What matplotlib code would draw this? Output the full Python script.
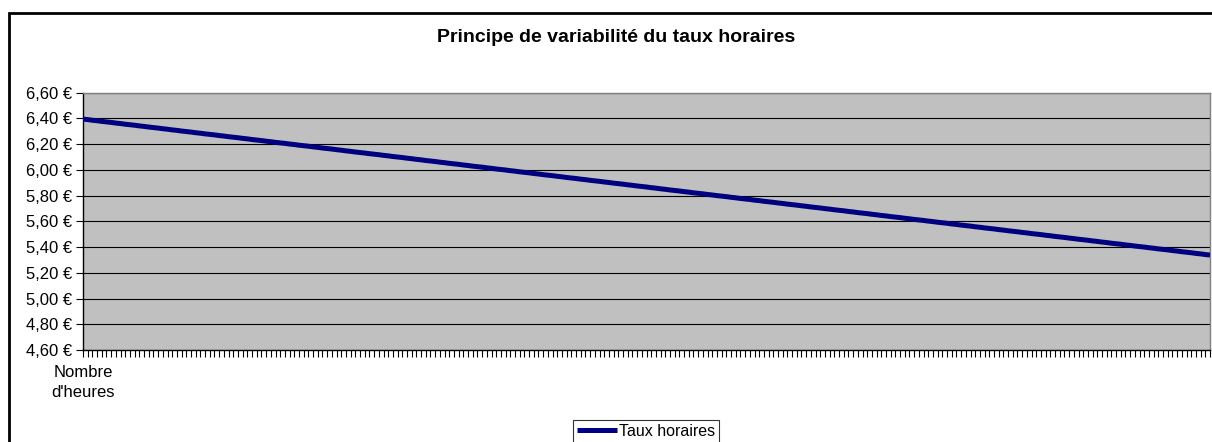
import matplotlib
matplotlib.use("Agg")
import matplotlib.pyplot as plt
from matplotlib.patches import Rectangle
from matplotlib.ticker import FuncFormatter, MultipleLocator

plt.rcParams['font.family'] = ['Liberation Sans', 'DejaVu Sans']

title = "Principe de variabilité du taux horaires"
series_name = "Taux horaires"
first_label = "Nombre\nd'heures"

taux = [
    6.395, 6.391, 6.386, 6.382, 6.377, 6.373, 6.369, 6.364, 6.360, 6.355,
    6.351, 6.347, 6.342, 6.338, 6.333, 6.329, 6.325, 6.320, 6.316, 6.311,
    6.307, 6.302, 6.298, 6.294, 6.289, 6.285, 6.280, 6.276, 6.272, 6.267,
    6.263, 6.258, 6.254, 6.250, 6.245, 6.241, 6.236, 6.232, 6.228, 6.223,
    6.219, 6.214, 6.210, 6.206, 6.201, 6.197, 6.192, 6.188, 6.184, 6.179,
    6.175, 6.170, 6.166, 6.162, 6.157, 6.153, 6.148, 6.144, 6.139, 6.135,
    6.131, 6.126, 6.122, 6.118, 6.113, 6.109, 6.104, 6.100, 6.096, 6.091,
    6.087, 6.082, 6.078, 6.073, 6.069, 6.065, 6.060, 6.056, 6.051, 6.047,
    6.043, 6.038, 6.034, 6.029, 6.025, 6.021, 6.016, 6.012, 6.007, 6.003,
    5.999, 5.994, 5.990, 5.985, 5.981, 5.977, 5.972, 5.968, 5.963, 5.959,
    5.955, 5.950, 5.946, 5.941, 5.937, 5.933, 5.928, 5.924, 5.919, 5.915,
    5.911, 5.906, 5.902, 5.897, 5.893, 5.889, 5.884, 5.880, 5.875, 5.871,
    5.867, 5.862, 5.858, 5.853, 5.849, 5.844, 5.840, 5.836, 5.831, 5.827,
    5.822, 5.818, 5.814, 5.809, 5.805, 5.800, 5.796, 5.792, 5.787, 5.783,
    5.778, 5.774, 5.770, 5.765, 5.761, 5.756, 5.752, 5.748, 5.743, 5.739,
    5.734, 5.730, 5.726, 5.721, 5.717, 5.712, 5.708, 5.704, 5.699, 5.695,
    5.690, 5.686, 5.682, 5.677, 5.673, 5.668, 5.664, 5.660, 5.655, 5.651,
    5.646, 5.642, 5.637, 5.633, 5.629, 5.624, 5.620, 5.615, 5.611, 5.607,
    5.602, 5.598, 5.593, 5.589, 5.585, 5.580, 5.576, 5.571, 5.567, 5.563,
    5.558, 5.554, 5.549, 5.545, 5.541, 5.536, 5.532, 5.527, 5.523, 5.519,
    5.514, 5.510, 5.505, 5.501, 5.497, 5.492, 5.488, 5.483, 5.479, 5.475,
    5.470, 5.466, 5.461, 5.457, 5.453, 5.448, 5.444, 5.439, 5.435, 5.430,
    5.426, 5.422, 5.417, 5.413, 5.408, 5.404, 5.400, 5.395, 5.391, 5.386,
    5.382, 5.378, 5.373, 5.369, 5.364, 5.360, 5.356, 5.351, 5.347, 5.342,
    5.338,
]
categories = [first_label] + [""] * (len(taux) - 1)

y_min, y_max, y_step = 4.60, 6.60, 0.20

W, H = 1212, 442
fig = plt.figure(figsize=(W / 100, H / 100), dpi=100)
fig.patch.set_facecolor("white")

# outer chart border
fig.patches.append(Rectangle((9 / W, -0.1), 1.2, 1 - 13 / H + 0.1,
                             transform=fig.transFigure, fill=False,
                             edgecolor="black", linewidth=2))

ax = fig.add_axes([83 / W, 1 - 350 / H, (1210 - 83) / W, (350 - 92.7) / H])
ax.set_facecolor("#C0C0C0")

x = list(range(len(taux)))
line, = ax.plot(x, taux, color="#000080", linewidth=3.6,
                solid_capstyle="butt", label=series_name, zorder=3)

ax.set_xlim(0, len(taux) - 1)
ax.set_ylim(y_min, y_max)
ax.yaxis.set_major_locator(MultipleLocator(y_step))
ax.yaxis.set_major_formatter(FuncFormatter(lambda v, p: f"{v:.2f}".replace(".", ",") + " €"))
ax.set_xticks(x)
ax.set_xticklabels(categories)
ax.grid(axis="y", color="black", linewidth=0.8)
ax.set_axisbelow(True)

ax.tick_params(axis="both", direction="out", length=5, width=0.8, color="black",
               labelsize=12, labelcolor="black")
ax.tick_params(axis="x", pad=6)
ax.tick_params(axis="y", pad=3)
for lbl in ax.get_xticklabels():
    lbl.set_multialignment("center")
    lbl.set_linespacing(1.4)

for s in ["left", "bottom"]:
    ax.spines[s].set_color("black")
    ax.spines[s].set_linewidth(1)
for s in ["top", "right"]:
    ax.spines[s].set_color("#808080")
    ax.spines[s].set_linewidth(1)

fig.text(616 / W, 1 - 38 / H, title, ha="center", va="center",
         fontsize=14, fontweight="bold")

leg = fig.legend(handles=[line], loc="upper center",
                 bbox_to_anchor=(646 / W, 1 - 420 / H), fontsize=11.5,
                 frameon=True, fancybox=False, handlelength=2.5,
                 handletextpad=0.1, borderpad=0.25, borderaxespad=0)
leg.get_frame().set_edgecolor("black")
leg.get_frame().set_linewidth(0.8)

fig.savefig("out.png", dpi=100)
